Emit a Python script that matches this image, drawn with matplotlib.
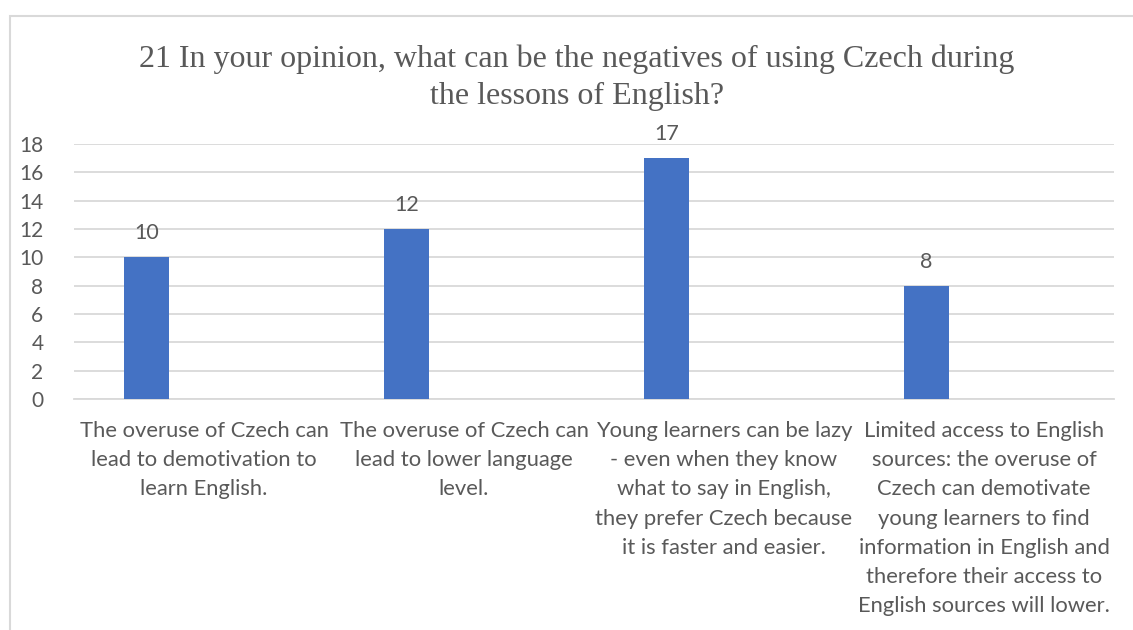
import matplotlib
matplotlib.use("Agg")
import matplotlib.pyplot as plt
from matplotlib.patches import Rectangle

title = "21 In your opinion, what can be the negatives of using Czech during\nthe lessons of English?"
categories = [
    "The overuse of Czech can\nlead to demotivation to\nlearn English.",
    "The overuse of Czech can\nlead to lower language\nlevel.",
    "Young learners can be lazy\n- even when they know\nwhat to say in English,\nthey prefer Czech because\nit is faster and easier.",
    "Limited access to English\nsources: the overuse of\nCzech can demotivate\nyoung learners to find\ninformation in English and\ntherefore their access to\nEnglish sources will lower.",
]
values = [10, 12, 17, 8]
yticks = [0, 2, 4, 6, 8, 10, 12, 14, 16, 18]

text_col = "#595959"
grid_col = "#d9d9d9"
bar_col = "#4472c4"
sans = ["Lato", "DejaVu Sans"]

fig = plt.figure(figsize=(11.33, 6.3), dpi=100)
fig.patches.append(Rectangle((10 / 1133, -0.1), 1.2, 1 - 16 / 630 + 0.1,
                             transform=fig.transFigure, fill=False,
                             edgecolor=grid_col, linewidth=1.5))

ax = fig.add_axes([74 / 1133, 1 - 399 / 630, 1040 / 1133, 255 / 630])
xs = range(len(values))
offset = -0.221
bars = ax.bar([x + offset for x in xs], values, width=0.173, color=bar_col, zorder=3)
for b, v in zip(bars, values):
    ax.annotate(str(v), (b.get_x() + b.get_width() / 2, v), xytext=(0, 10),
                textcoords="offset points", ha="center", va="bottom",
                fontsize=15.5, color=text_col, family=sans)

ax.set_xlim(-0.5, len(values) - 0.5)
ax.set_ylim(0, 18)
ax.set_yticks(yticks)
ax.set_xticks(list(xs))
ax.set_xticklabels(categories, fontsize=15.8, color=text_col, family=sans,
                   linespacing=1.57, va="top")
for lbl in ax.get_yticklabels():
    lbl.set_fontsize(15)
    lbl.set_color(text_col)
    lbl.set_family(sans)
ax.tick_params(axis="both", length=0)
ax.tick_params(axis="y", pad=22)
ax.tick_params(axis="x", pad=16)
ax.grid(axis="y", color=grid_col, linewidth=1.3, zorder=0)
for s in ["top", "right", "left"]:
    ax.spines[s].set_visible(False)
ax.spines["bottom"].set_color(grid_col)
ax.spines["bottom"].set_linewidth(1.3)

fig.text(577 / 1133, 1 - 78 / 630, title, ha="center", va="center",
         fontsize=23, color=text_col, family="Liberation Serif", linespacing=1.35)

fig.savefig("out.png", dpi=100)
